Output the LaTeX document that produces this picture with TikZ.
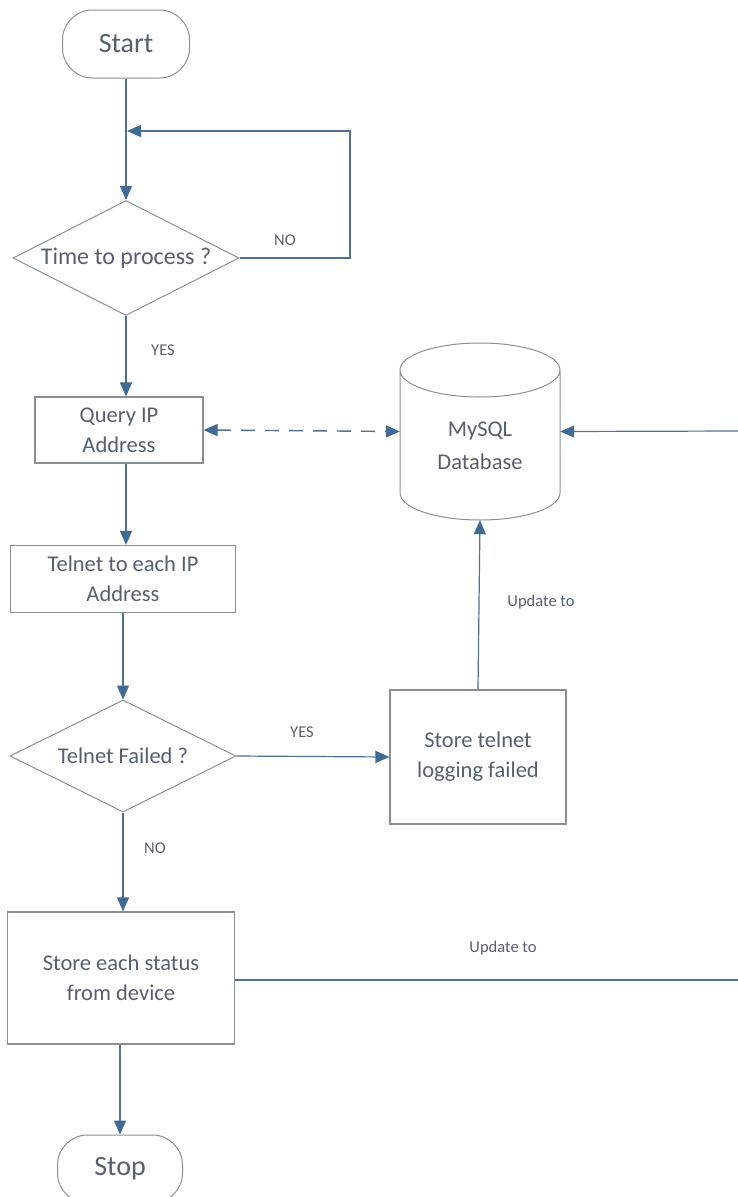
\documentclass[tikz,border=0pt]{standalone}
\usepackage{fontspec}
\setmainfont{Carlito}
\usetikzlibrary{arrows.meta,shapes.geometric}
\definecolor{txt}{HTML}{55606E}
\definecolor{edge}{HTML}{8A8F96}
\definecolor{flow}{HTML}{52708F}
\definecolor{tip}{HTML}{3F6A96}
\tikzset{
  box/.style={draw=edge,line width=1.1pt,rectangle,inner sep=0pt,text=txt,align=center,font=\fontsize{22.5}{30}\selectfont},
  term/.style={draw=edge,line width=1pt,rounded corners=30pt,inner sep=0pt,text=txt,font=\fontsize{28}{30}\selectfont},
  decide/.style={draw=edge,line width=1pt,diamond,inner sep=0pt,text=txt,font=\fontsize{22.5}{26}\selectfont},
  flowline/.style={draw=flow,line width=1.2pt},
  tipshape/.tip={Triangle[length=14pt,width=12pt,color=tip]},
  arr/.style={flowline,-tipshape},
  darr/.style={flowline,line width=1.4pt,dash pattern=on 14pt off 10pt,tipshape-tipshape},
  lbl/.style={text=txt,font=\fontsize{16.5}{18}\selectfont,inner sep=0pt}
}
\begin{document}
\begin{tikzpicture}[x=1pt,y=-1pt]
\useasboundingbox (0,0) rectangle (737,1197);

% terminals
\node[term,minimum width=127pt,minimum height=68pt] (start) at (126,44) {Start};
\node[term,minimum width=125pt,minimum height=68pt] (stop) at (120,1169) {Stop};

% decisions
\node[decide,aspect=1.97,minimum width=226pt,minimum height=115pt,font=\fontsize{24}{26}\selectfont] (q1) at (126,258) {Time to process ?};
\node[decide,aspect=2.0,minimum width=226pt,minimum height=112pt] (q2) at (123,756) {Telnet Failed ?};

% process boxes
\node[box,minimum width=168pt,minimum height=66pt] (query) at (119,430) {Query IP\\Address};
\node[box,minimum width=225pt,minimum height=67pt] (telnet) at (123,579) {Telnet to each IP\\Address};
\node[box,minimum width=176pt,minimum height=134pt] (fail) at (478,757) {Store telnet\\logging failed};
\node[box,minimum width=227pt,minimum height=132pt] (status) at (121,978) {Store each status\\from device};

% database cylinder
\node[minimum width=160pt,minimum height=177pt,inner sep=0pt] (db) at (480,431.5) {};
\draw[edge,line width=1pt]
  (480,370) ellipse [x radius=80pt, y radius=27pt]
  (400,370) -- (400,493)
  arc[start angle=180,end angle=360,x radius=80pt,y radius=27pt]
  -- (560,370);
\node[text=txt,align=center,font=\fontsize{22.5}{33}\selectfont] (dbtext) at (480,446) {MySQL\\Database};

% helper points (the return path runs along the right margin)
\coordinate (loopin) at (126,131);
\coordinate (loopr) at (350,131);
\coordinate (rtop) at (739,431);
\coordinate (rbot) at (739,980);

% main flow
\draw[flowline] (start.south) -- (loopin);
\draw[arr] (loopin) -- (q1.north);
\draw[arr] (q1.east) -- (loopr |- q1.east) -- (loopr) -- ([xshift=1pt]loopin);
\node[lbl] (no1) at (285,240) {NO};
\draw[arr] (q1.south) -- (q1.south |- query.north);
\node[lbl] (yes1) at (163,350) {YES};
\draw[arr] (q1.south |- query.south) -- (q1.south |- telnet.north);
\draw[arr] (q2.north |- telnet.south) -- (q2.north);
\draw[arr] (q2.east) -- (fail.west);
\node[lbl] (yes2) at (302,732) {YES};
\draw[arr] (q2.south) -- (q2.south |- status.north);
\node[lbl] (no2) at (155,848) {NO};
\draw[arr] (status.south -| stop.north) -- (stop.north);

% database links
\draw[darr] (query.east) -- (db.west);
\draw[arr] (fail.north) -- (db.south);
\node[lbl] (up1) at (541,602) {Update to};
\draw[flowline] (status.east |- rbot) -- (rbot) -- (rtop);
\draw[arr] (rtop) -- (db.east);
\node[lbl] (up2) at (503,948) {Update to};
\end{tikzpicture}
\end{document}
